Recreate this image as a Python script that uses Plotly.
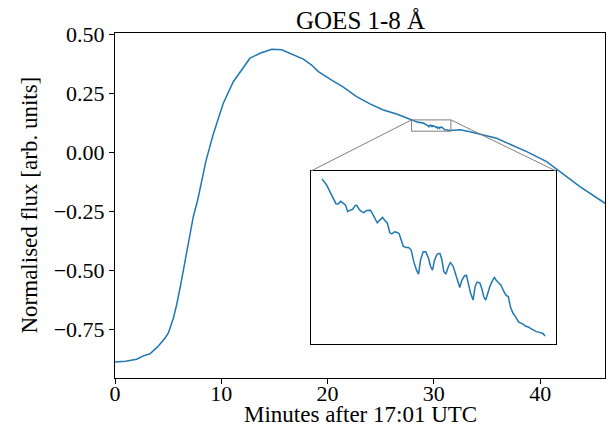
import plotly.graph_objects as go

# ---- data ----
# rise and early decay (minutes after 17:01 UTC, normalised flux)
t_rise = [0.0, 1.0, 2.04, 2.67, 3.29, 4.0, 4.70, 5.02, 5.49, 5.80, 6.18, 6.59,
          7.0, 7.37, 7.78, 8.0, 8.56, 9.25, 10.19, 11.13, 11.92, 12.70, 13.64,
          14.74, 15.68, 16.46, 16.93, 17.72, 18.50, 19.13, 20.23, 21.48,
          22.73, 23.99, 25.24, 26.50, 27.28, 27.91]
f_rise = [-0.890, -0.887, -0.878, -0.864, -0.855, -0.826, -0.789, -0.767,
          -0.704, -0.647, -0.562, -0.456, -0.357, -0.272, -0.202, -0.159,
          -0.036, 0.078, 0.209, 0.300, 0.353, 0.400, 0.421, 0.438, 0.436,
          0.421, 0.414, 0.396, 0.371, 0.343, 0.311, 0.277, 0.237, 0.206,
          0.180, 0.163, 0.149, 0.138]

# detailed section shown in the inset
t_zoom = [28.066, 28.136, 28.187, 28.237, 28.277, 28.312, 28.347, 28.388,
          28.423, 28.453, 28.488, 28.528, 28.564, 28.589, 28.629, 28.664,
          28.699, 28.740, 28.800, 28.840, 28.900, 28.941, 28.981, 29.021,
          29.051, 29.091, 29.122, 29.162, 29.202, 29.232, 29.293, 29.333,
          29.373, 29.413, 29.453, 29.494, 29.524, 29.554, 29.594, 29.634,
          29.675, 29.705, 29.735, 29.765, 29.805, 29.846, 29.876, 29.906,
          29.936, 29.976, 30.006, 30.047, 30.077, 30.117, 30.147, 30.177,
          30.217, 30.248, 30.278, 30.308, 30.348, 30.378, 30.408, 30.449,
          30.479, 30.509, 30.539, 30.569, 30.600, 30.640, 30.670, 30.700,
          30.740, 30.770, 30.801, 30.841, 30.881, 30.911, 30.951, 30.992,
          31.032, 31.062, 31.102, 31.142, 31.183, 31.213, 31.253, 31.303,
          31.354, 31.404, 31.434]
f_zoom = [0.1358, 0.1341, 0.1322, 0.1301, 0.1289, 0.1288, 0.1296, 0.1290,
          0.1285, 0.1267, 0.1271, 0.1273, 0.1283, 0.1285, 0.1273, 0.1267,
          0.1264, 0.1270, 0.1271, 0.1257, 0.1236, 0.1244, 0.1251, 0.1241,
          0.1236, 0.1208, 0.1205, 0.1211, 0.1209, 0.1205, 0.1171, 0.1167,
          0.1167, 0.1160, 0.1127, 0.1104, 0.1093, 0.1132, 0.1155, 0.1155,
          0.1137, 0.1115, 0.1104, 0.1132, 0.1149, 0.1151, 0.1134, 0.1100,
          0.1093, 0.1115, 0.1125, 0.1115, 0.1097, 0.1067, 0.1056, 0.1075,
          0.1088, 0.1090, 0.1060, 0.1041, 0.1021, 0.1058, 0.1071, 0.1069,
          0.1053, 0.1030, 0.1021, 0.1041, 0.1058, 0.1075, 0.1084, 0.1075,
          0.1069, 0.1062, 0.1049, 0.1035, 0.1030, 0.1002, 0.0984, 0.0974,
          0.0960, 0.0958, 0.0954, 0.0948, 0.0946, 0.0942, 0.0937, 0.0933,
          0.0931, 0.0928, 0.0921]

# late decay
t_decay = [31.58, 32.46, 33.4, 35.9, 38.73, 40.61, 41.86, 43.74, 46.1]
f_decay = [0.0925, 0.096, 0.088, 0.060, 0.0034, -0.039, -0.081, -0.145, -0.216]

x_ticks = [0, 10, 20, 30, 40]
y_ticks = [-0.75, -0.50, -0.25, 0.00, 0.25, 0.50]

title_text = "GOES 1-8 Å"
x_label = "Minutes after 17:01 UTC"
y_label = "Normalised flux [arb. units]"

x_range = [0, 46.1]
y_range = [-0.958, 0.507]
zoom_x = [27.9, 31.6]
zoom_y = [0.090, 0.138]
inset_dom_x = [0.4, 0.9]
inset_dom_y = [0.1, 0.6]

t_all = t_rise + t_zoom + t_decay
f_all = f_rise + f_zoom + f_decay

FONT = "Liberation Serif"
BLUE = "#1f77b4"
GREY = "#808080"

W, H = 614, 436
ML, MR, MT, MB = 115, 9, 33, 58
PW, PH = W - ML - MR, H - MT - MB

fig = go.Figure()
fig.add_trace(go.Scatter(x=t_all, y=f_all, mode="lines",
                         line=dict(color=BLUE, width=1.5),
                         xaxis="x", yaxis="y", showlegend=False))
fig.add_trace(go.Scatter(x=t_zoom, y=f_zoom, mode="lines",
                         line=dict(color=BLUE, width=1.5),
                         xaxis="x2", yaxis="y2", showlegend=False))


# inset corners expressed in main-axis data coordinates
def to_main_x(p):
    return x_range[0] + p * (x_range[1] - x_range[0])


def to_main_y(p):
    return y_range[0] + p * (y_range[1] - y_range[0])


shapes = [
    dict(type="rect", xref="x", yref="y", x0=zoom_x[0], x1=zoom_x[1],
         y0=zoom_y[0], y1=zoom_y[1], line=dict(color=GREY, width=1)),
    dict(type="line", xref="x", yref="y", x0=zoom_x[0], y0=zoom_y[1],
         x1=to_main_x(inset_dom_x[0]), y1=to_main_y(inset_dom_y[1]),
         line=dict(color=GREY, width=1)),
    dict(type="line", xref="x", yref="y", x0=zoom_x[1], y0=zoom_y[1],
         x1=to_main_x(inset_dom_x[1]), y1=to_main_y(inset_dom_y[1]),
         line=dict(color=GREY, width=1)),
]

annotations = [
    dict(text=title_text, xref="paper", yref="paper", x=0.5,
         y=1 + (MT - 21) / PH, xanchor="center", yanchor="middle",
         showarrow=False, font=dict(family=FONT, size=25, color="black")),
    dict(text=x_label, xref="paper", yref="paper", x=0.5,
         y=-(415 - (MT + PH)) / PH, xanchor="center", yanchor="middle",
         showarrow=False, font=dict(family=FONT, size=23, color="black")),
    dict(text=y_label, xref="paper", yref="paper", x=-(ML - 29) / PW,
         y=0.5, xanchor="center", yanchor="middle", textangle=-90,
         showarrow=False, font=dict(family=FONT, size=23, color="black")),
]

axis_common = dict(showgrid=False, zeroline=False, showline=True, mirror=True,
                   linecolor="black", linewidth=1, automargin=False)

fig.update_layout(
    width=W, height=H,
    margin=dict(l=ML, r=MR, t=MT, b=MB, autoexpand=False),
    paper_bgcolor="white", plot_bgcolor="white",
    font=dict(family=FONT, color="black", size=22),
    hovermode=False,
    xaxis=dict(domain=[0, 1], range=x_range, tickvals=x_ticks,
               ticks="outside", ticklen=5, tickwidth=1, tickcolor="black",
               tickfont=dict(size=22), ticklabelstandoff=-9, **axis_common),
    yaxis=dict(domain=[0, 1], range=y_range, tickvals=y_ticks,
               tickformat=".2f", ticks="outside", ticklen=5, tickwidth=1,
               tickcolor="black", tickfont=dict(size=22), **axis_common),
    xaxis2=dict(domain=inset_dom_x, anchor="y2", range=zoom_x,
                showticklabels=False, ticks="", **axis_common),
    yaxis2=dict(domain=inset_dom_y, anchor="x2", range=zoom_y,
                showticklabels=False, ticks="", **axis_common),
    shapes=shapes,
    annotations=annotations,
)

fig.write_html("out.html",
               config={"displayModeBar": False},
               post_script="document.body.style.margin='0';"
                           "document.body.style.padding='0';")
